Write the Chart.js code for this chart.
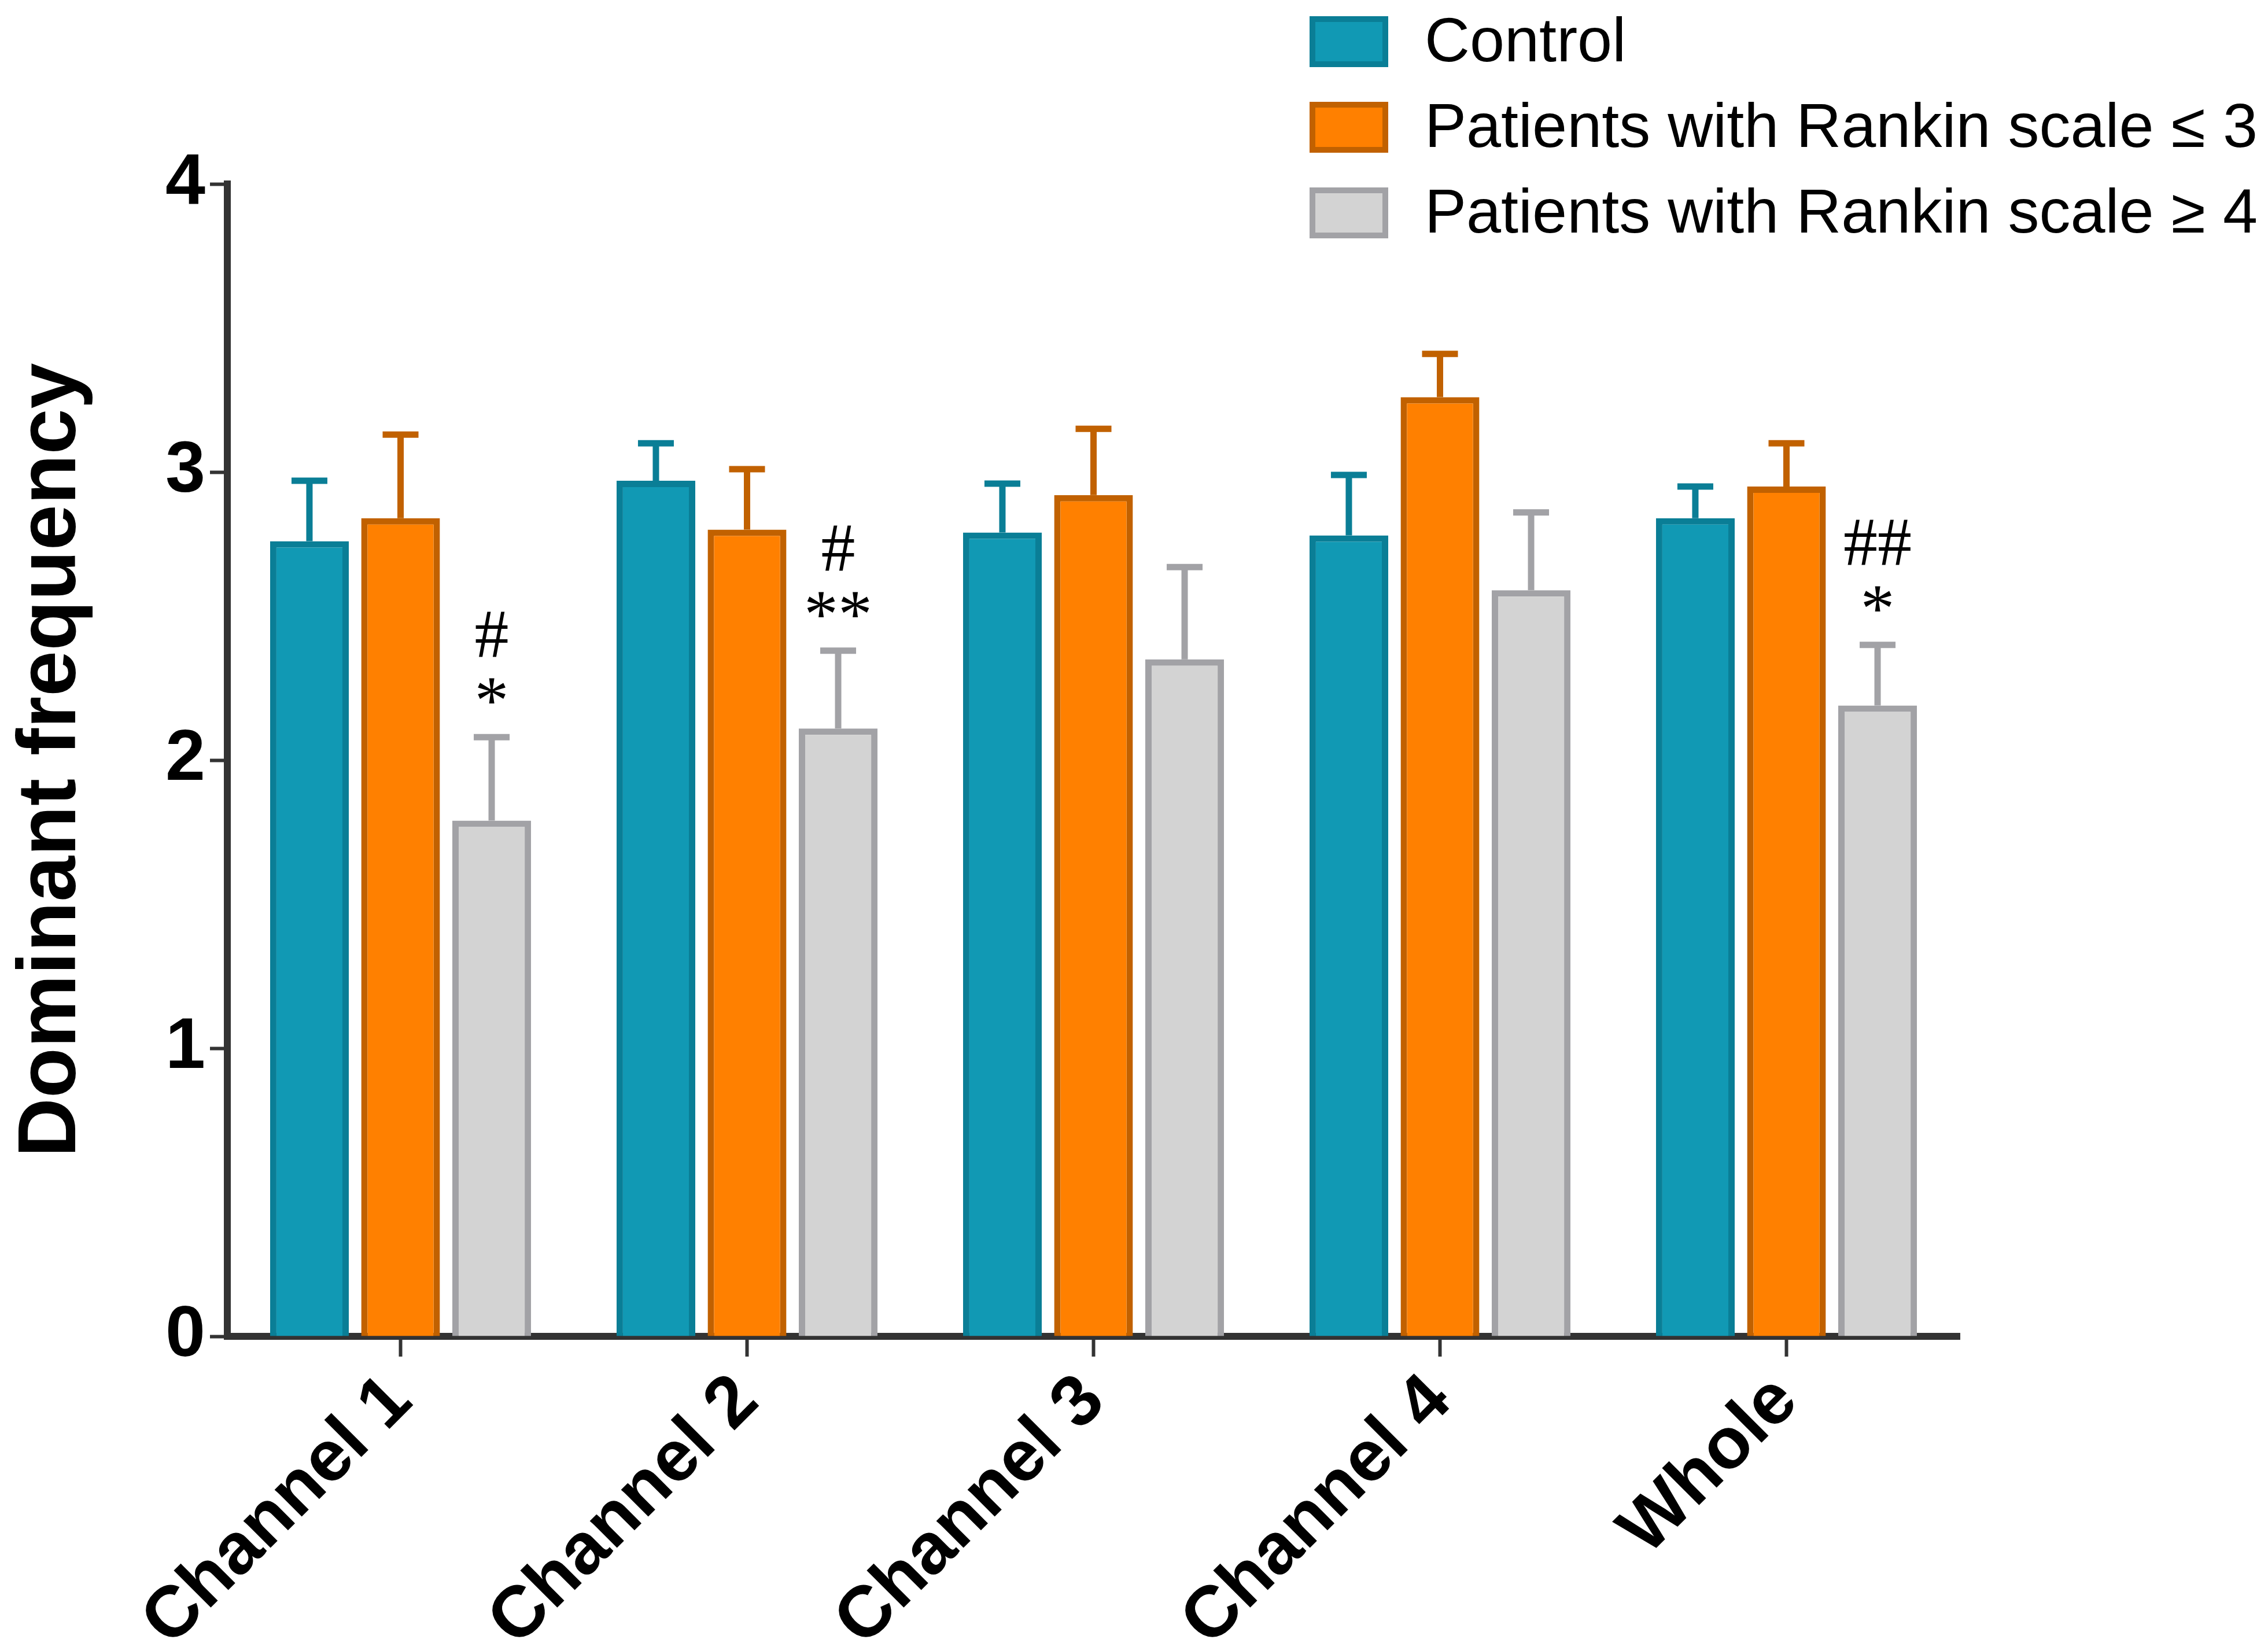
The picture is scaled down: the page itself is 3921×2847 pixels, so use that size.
<!DOCTYPE html>
<html>
<head>
<meta charset="utf-8">
<script src="https://cdn.jsdelivr.net/npm/chart.js@4.4.1/dist/chart.umd.min.js"></script>
<style>
    html, body { margin: 0; padding: 0; background: #ffffff; }
    canvas { display: block; }
</style>
</head>
<body>
<canvas id="frecuencia" width="3921" height="2847"></canvas>
<script>
// categorias del eje x
const categorias = ['Channel 1', 'Channel 2', 'Channel 3', 'Channel 4', 'Whole'];
// nombres de los grupos
const grupos = ['Control', 'Patients with Rankin scale \u2264 3', 'Patients with Rankin scale \u2265 4'];

// medias por grupo
const control = [2.76, 2.97, 2.79, 2.78, 2.84];
const rankinBajo = [2.84, 2.80, 2.92, 3.26, 2.95];
const rankinAlto = [1.79, 2.11, 2.35, 2.59, 2.19];

// error (solo hacia arriba)
const errControl = [0.21, 0.13, 0.17, 0.21, 0.11];
const errRankinBajo = [0.29, 0.21, 0.23, 0.15, 0.15];
const errRankinAlto = [0.29, 0.27, 0.32, 0.27, 0.21];

// marcas de significancia sobre las barras grises
const marcaGato = ['#', '#', '', '', '##'];
const marcaAsterisco = ['*', '**', '', '', '*'];

// ticks del eje y
const ticksY = [0, 1, 2, 3, 4];

// Colores de las barras
const colores = {
    relleno: ['#1199b4', '#ff8000', '#d3d3d3'],
    borde: ['#0a7e96', '#c16100', '#a2a2a6']
};

const medias = [control, rankinBajo, rankinAlto];
const errores = [errControl, errRankinBajo, errRankinAlto];

const crearDataset = (label, data, index) => ({
    label: label,
    data: data,
    backgroundColor: colores.relleno[index],
    borderColor: colores.borde[index],
    borderWidth: 11,
    categoryPercentage: 0.789,
    barPercentage: 0.864
});

//barras de error
const pluginErrores = {
    id: 'errores',
    afterDatasetsDraw(chart) {
        const ctx = chart.ctx;
        const escalaY = chart.scales.y;
        chart.data.datasets.forEach((ds, i) => {
            const meta = chart.getDatasetMeta(i);
            meta.data.forEach((barra, j) => {
                const arriba = escalaY.getPixelForValue(medias[i][j] + errores[i][j]);
                ctx.save();
                ctx.strokeStyle = colores.borde[i];
                ctx.lineWidth = 11;
                ctx.beginPath();
                ctx.moveTo(barra.x, barra.y);
                ctx.lineTo(barra.x, arriba);
                ctx.moveTo(barra.x - 31, arriba);
                ctx.lineTo(barra.x + 31, arriba);
                ctx.stroke();
                ctx.restore();
            });
        });
    }
};

//marcas # y *
const pluginMarcas = {
    id: 'marcas',
    afterDatasetsDraw(chart) {
        const ctx = chart.ctx;
        const escalaY = chart.scales.y;
        const meta = chart.getDatasetMeta(2);
        ctx.save();
        ctx.fillStyle = '#000000';
        ctx.textAlign = 'center';
        ctx.textBaseline = 'middle';
        ctx.font = '118px "Liberation Serif", "DejaVu Serif", serif';
        meta.data.forEach((barra, j) => {
            const arriba = escalaY.getPixelForValue(rankinAlto[j] + errRankinAlto[j]);
            if (marcaAsterisco[j]) ctx.fillText(marcaAsterisco[j], barra.x, arriba - 55);
            if (marcaGato[j]) ctx.fillText(marcaGato[j], barra.x, arriba - 170);
        });
        ctx.restore();
    }
};

//leyenda arriba a la derecha
const pluginLeyenda = {
    id: 'leyenda',
    afterDraw(chart) {
        const ctx = chart.ctx;
        ctx.save();
        ctx.font = '108px "Liberation Sans", Arial, sans-serif';
        ctx.textBaseline = 'middle';
        ctx.textAlign = 'left';
        grupos.forEach((nombre, i) => {
            const yc = 72 + i * 148;
            ctx.fillStyle = colores.relleno[i];
            ctx.strokeStyle = colores.borde[i];
            ctx.lineWidth = 10;
            ctx.fillRect(2269, yc - 39, 126, 78);
            ctx.strokeRect(2269, yc - 39, 126, 78);
            ctx.fillStyle = '#000000';
            ctx.fillText(nombre, 2463, yc + 4);
        });
        ctx.restore();
    }
};

const ctx = document.getElementById('frecuencia').getContext('2d');

const grafica = new Chart(ctx, {
    type: 'bar',
    data: {
        labels: categorias,
        datasets: grupos.map((g, i) => crearDataset(g, medias[i], i))
    },
    options: {
        responsive: false,
        animation: false,
        devicePixelRatio: 1,
        layout: {
            padding: { left: 0, top: 318, right: 533, bottom: 0 }
        },
        plugins: {
            legend: { display: false },
            tooltip: { enabled: false }
        },
        scales: {
            x: {
                z: 1,
                grid: {
                    offset: false,
                    drawOnChartArea: false,
                    drawTicks: true,
                    tickLength: 35,
                    tickWidth: 6,
                    tickColor: '#333333'
                },
                border: { display: true, color: '#333333', width: 12 },
                ticks: {
                    minRotation: 45,
                    maxRotation: 45,
                    padding: 4,
                    color: '#000000',
                    font: { family: '"Liberation Sans", Arial, sans-serif', size: 125, weight: 'bold' }
                },
                afterFit(scale) {
                    scale.height = 537;
                    scale.paddingLeft = 0;
                    scale.paddingRight = 0;
                }
            },
            y: {
                z: 1,
                min: 0,
                max: 4,
                afterBuildTicks(scale) {
                    scale.ticks = ticksY.map(v => ({ value: v }));
                },
                grid: {
                    drawOnChartArea: false,
                    drawTicks: true,
                    tickLength: 30,
                    tickWidth: 6,
                    tickColor: '#333333'
                },
                border: { display: true, color: '#333333', width: 12 },
                ticks: {
                    padding: 8,
                    color: '#000000',
                    font: { family: '"Liberation Sans", Arial, sans-serif', size: 124, weight: 'bold' }
                },
                title: {
                    display: true,
                    text: 'Dominant frequency',
                    color: '#000000',
                    padding: { top: 6, bottom: 0 },
                    font: { family: '"Liberation Sans", Arial, sans-serif', size: 142, weight: 'bold' }
                },
                afterFit(scale) {
                    scale.width = 393;
                }
            }
        }
    },
    plugins: [pluginErrores, pluginMarcas, pluginLeyenda]
});
</script>
</body>
</html>
